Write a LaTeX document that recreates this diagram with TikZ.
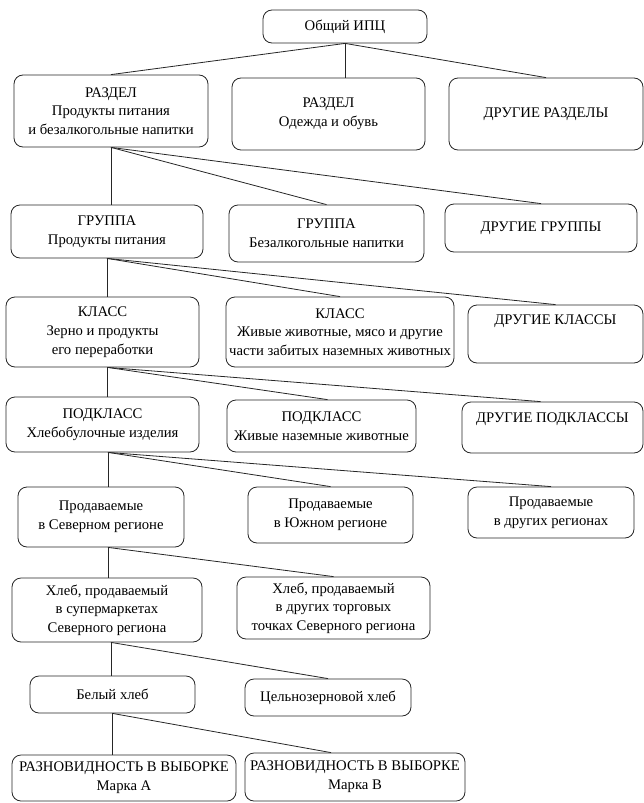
\documentclass[tikz,border=0pt]{standalone}
\usepackage{fontspec}
\setmainfont{Liberation Serif}
\usetikzlibrary{positioning}

\begin{document}
\begin{tikzpicture}[x=1pt, y=-1pt]

\tikzstyle{block} = [
    rectangle,
    draw=black!85,
    line width=0.8pt,
    rounded corners=9pt,
    align=center,
    inner sep=0pt,
    font=\fontsize{14.7}{18.7}\selectfont
];
\tikzstyle{link} = [draw=black!85, line width=0.8pt];

\useasboundingbox (0,0) rectangle (644,803);

% top
\node[block, minimum width=164pt, minimum height=33pt] (cpi) at (345,26.5) {Общий ИПЦ};

% sections
\node[block, minimum width=194pt, minimum height=72pt] (sec1) at (111,111) {РАЗДЕЛ\\Продукты питания\\и безалкогольные напитки};
\node[block, minimum width=193pt, minimum height=72pt] (sec2) at (328.5,114) {РАЗДЕЛ\\Одежда и обувь};
\node[block, minimum width=194pt, minimum height=72pt] (sec3) at (546,114) {ДРУГИЕ РАЗДЕЛЫ};

% groups
\node[block, minimum width=192pt, minimum height=53pt] (grp1) at (107,231.5) {ГРУППА\\Продукты питания};
\node[block, minimum width=195pt, minimum height=57pt] (grp2) at (326.5,233.5) {ГРУППА\\Безалкогольные напитки};
\node[block, minimum width=192pt, minimum height=48pt] (grp3) at (541,228) {ДРУГИЕ ГРУППЫ};

% classes
\node[block, minimum width=193pt, minimum height=70pt] (cls1) at (102.5,332) {КЛАСС\\Зерно и продукты\\его переработки};
\node[block, minimum width=228pt, minimum height=70pt] (cls2) at (340,332) {КЛАСС\\Живые животные, мясо и другие\\части забитых наземных животных};
\node[block, minimum width=175pt, minimum height=58pt, text depth=28pt] (cls3) at (555.5,334) {ДРУГИЕ КЛАССЫ};

% subclasses
\node[block, minimum width=193pt, minimum height=55pt] (sub1) at (102.5,424.5) {ПОДКЛАСС\\Хлебобулочные изделия};
\node[block, minimum width=189pt, minimum height=52pt] (sub2) at (321.5,426) {ПОДКЛАСС\\Живые наземные животные};
\node[block, minimum width=181pt, minimum height=51pt, text depth=19pt] (sub3) at (552.5,427.5) {ДРУГИЕ ПОДКЛАССЫ};

% regions
\node[block, minimum width=166pt, minimum height=60pt] (reg1) at (101,517) {Продаваемые\\в Северном регионе};
\node[block, minimum width=165pt, minimum height=56pt] (reg2) at (330.5,515) {Продаваемые\\в Южном регионе};
\node[block, minimum width=166pt, minimum height=51pt] (reg3) at (551,512.5) {Продаваемые\\в других регионах};

% outlets
\node[block, minimum width=190pt, minimum height=64pt] (out1) at (107,610) {Хлеб, продаваемый\\в супермаркетах\\Северного региона};
\node[block, minimum width=193pt, minimum height=62pt] (out2) at (333.5,608) {Хлеб, продаваемый\\в других торговых\\точках Северного региона};

% bread types
\node[block, minimum width=165pt, minimum height=37pt] (white) at (112.5,694.5) {Белый хлеб};
\node[block, minimum width=166pt, minimum height=37pt] (whole) at (328,697.5) {Цельнозерновой хлеб};

% varieties
\node[block, minimum width=224pt, minimum height=46pt] (varA) at (124,778) {РАЗНОВИДНОСТЬ В ВЫБОРКЕ\\Марка А};
\node[block, minimum width=220pt, minimum height=48pt] (varB) at (355,777) {РАЗНОВИДНОСТЬ В ВЫБОРКЕ\\Марка В};

\draw[link] (cpi.south) -- (sec1.north);
\draw[link] (cpi.south) -- (cpi.south |- sec2.north);
\draw[link] (cpi.south) -- (sec3.north);

\draw[link] (sec1.south) -- (sec1.south |- grp1.north);
\draw[link] (sec1.south) -- (grp2.north);
\draw[link] (sec1.south) -- (grp3.north);

\draw[link] (grp1.south) -- (grp1.south |- cls1.north);
\draw[link] (grp1.south) -- (cls2.north);
\draw[link] (grp1.south) -- (cls3.north);

\draw[link] ([xshift=5pt]cls1.south) -- ([xshift=5pt]cls1.south |- sub1.north);
\draw[link] ([xshift=5pt]cls1.south) -- ([xshift=6pt]sub2.north);
\draw[link] ([xshift=5pt]cls1.south) -- ([xshift=-12pt]sub3.north);

\draw[link] ([xshift=5.5pt]sub1.south) -- ([xshift=5.5pt]sub1.south |- reg1.north);
\draw[link] ([xshift=5.5pt]sub1.south) -- (reg2.north);
\draw[link] ([xshift=5.5pt]sub1.south) -- (reg3.north);

\draw[link] ([xshift=7pt]reg1.south) -- ([xshift=7pt]reg1.south |- out1.north);
\draw[link] ([xshift=7pt]reg1.south) -- (out2.north);

\draw[link] ([xshift=4pt]out1.south) -- ([xshift=4pt]out1.south |- white.north);
\draw[link] ([xshift=4pt]out1.south) -- (whole.north);

\draw[link] (white.south) -- (white.south |- varA.north);
\draw[link] (white.south) -- ([xshift=-24pt]varB.north);

\end{tikzpicture}
\end{document}
